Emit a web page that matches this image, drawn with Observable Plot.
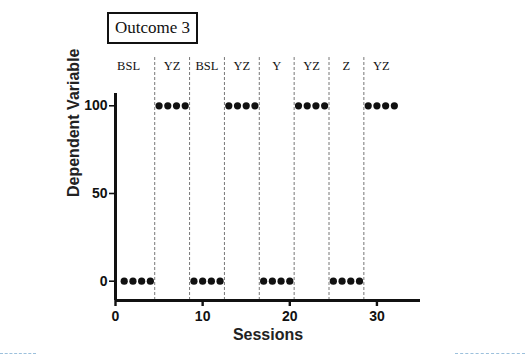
<!DOCTYPE html>
<html>
<head>
<meta charset="utf-8">
<script src="https://cdn.jsdelivr.net/npm/d3@7"></script>
<script src="https://cdn.jsdelivr.net/npm/@observablehq/plot@0.6"></script>
<style>
  html, body { margin: 0; padding: 0; background: #fff; }
  #wrap { position: relative; width: 525px; height: 356px; overflow: hidden; }
  #title {
    position: absolute; left: 107px; top: 12px; width: 87px; height: 28px;
    border: 2px solid #111; font-family: "Liberation Serif", "DejaVu Serif", serif;
    font-size: 17px; line-height: 28px; text-align: center; color: #111; background: #fff;
  }
  .deco { position: absolute; top: 353px; height: 0; border-top: 1px dashed #9cc0dc; }
</style>
</head>
<body>
<div id="wrap">
  <div id="chart"></div>
  <div id="title">Outcome 3</div>
  <div class="deco" style="left:0;width:36px"></div>
  <div class="deco" style="left:455px;width:70px"></div>
</div>
<script>
// Data
const sessions = [1,2,3,4, 5,6,7,8, 9,10,11,12, 13,14,15,16, 17,18,19,20, 21,22,23,24, 25,26,27,28, 29,30,31,32];
const values   = [0,0,0,0, 100,100,100,100, 0,0,0,0, 100,100,100,100, 0,0,0,0, 100,100,100,100, 0,0,0,0, 100,100,100,100];
const phaseChanges = [4.5, 8.5, 12.5, 16.5, 20.5, 24.5, 28.5];
const phaseLabels = ["BSL", "YZ", "BSL", "YZ", "Y", "YZ", "Z", "YZ"];
const phaseLabelX = [1.5, 6.5, 10.5, 14.5, 18.5, 22.5, 26.5, 30.5];
const xTicks = [0, 10, 20, 30];
const yTicks = [0, 50, 100];

const points = sessions.map((s, i) => ({session: s, value: values[i]}));
const labels = phaseLabels.map((t, i) => ({label: t, x: phaseLabelX[i]}));

const sans = "Arial, 'Liberation Sans', Helvetica, sans-serif";
const serif = "'Liberation Serif', 'DejaVu Serif', serif";

const chart = Plot.plot({
  width: 525,
  height: 356,
  marginLeft: 115,
  marginRight: 105,
  marginTop: 93,
  marginBottom: 56,
  style: {background: "#fff", overflow: "visible"},
  x: {domain: [0, 35]},
  y: {domain: [-11, 107]},
  marks: [
    Plot.ruleX(phaseChanges, {y1: -11, y2: 127.5, stroke: "#666", strokeWidth: 0.9, strokeDasharray: "3,2"}),
    Plot.text(labels, {x: "x", y: 122.5, text: "label", fontFamily: serif, fontSize: 12.5, fill: "#111"}),
    Plot.ruleX([0], {stroke: "#111", strokeWidth: 3}),
    Plot.ruleY([-11], {stroke: "#111", strokeWidth: 3}),
    Plot.axisY({ticks: yTicks, tickSize: 6, tickPadding: 2, tickFormat: d3.format("d"), label: null,
      fontFamily: sans, fontSize: 14, fontWeight: "bold", stroke: "#111", strokeWidth: 1.6, fill: "#111"}),
    Plot.axisX({ticks: xTicks, tickSize: 6, tickPadding: 5, tickFormat: d3.format("d"), label: null,
      fontFamily: sans, fontSize: 14, fontWeight: "bold", stroke: "#111", strokeWidth: 2.4, fill: "#111"}),
    Plot.dot(points, {x: "session", y: "value", r: 3.6, fill: "#111", stroke: "none"}),
    Plot.text(["Sessions"], {frameAnchor: "bottom", dy: 39, fontFamily: sans, fontSize: 16, fontWeight: "bold", fill: "#222"}),
    Plot.text(["Dependent Variable"], {frameAnchor: "left", dx: -42, rotate: -90, fontFamily: sans, fontSize: 16, fontWeight: "bold", fill: "#222"})
  ]
});
document.getElementById("chart").appendChild(chart);
</script>
</body>
</html>
